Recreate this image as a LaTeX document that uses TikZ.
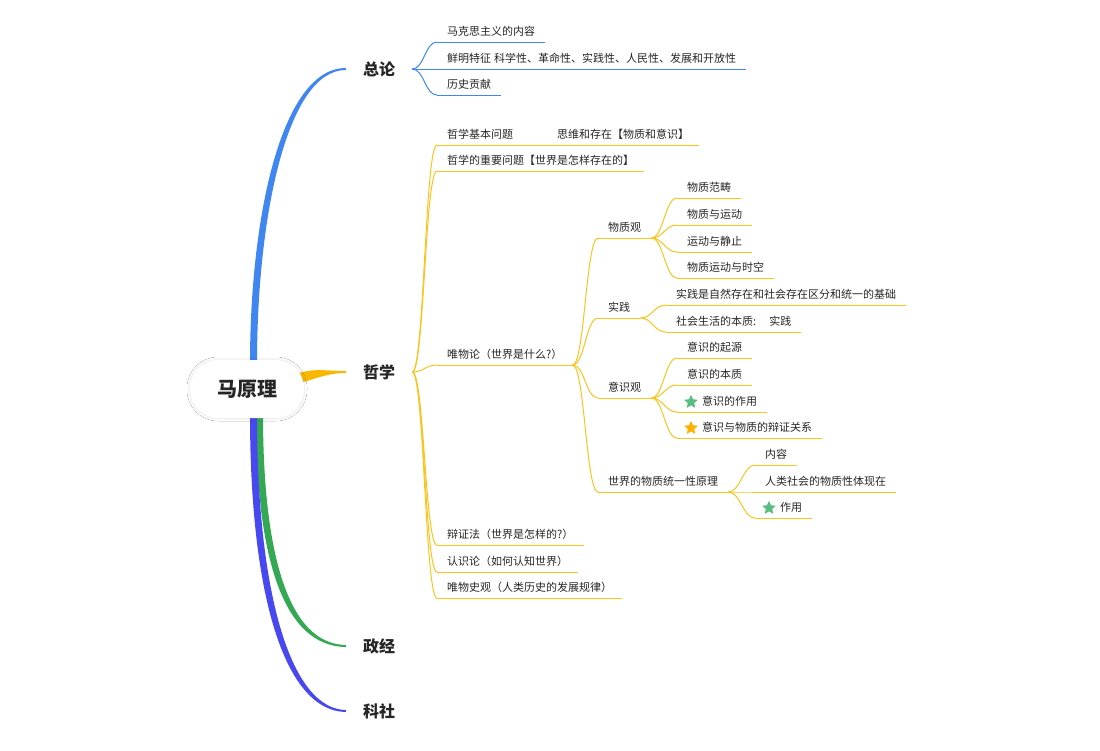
\documentclass[tikz,border=0pt]{standalone}
\usepackage{fontspec}
\setmainfont{Noto Sans CJK SC}
\usetikzlibrary{positioning, calc, shapes.geometric, shadows.blur}
\pgfdeclarelayer{background}
\pgfsetlayers{background,main}
\definecolor{inkgray}{RGB}{38,38,38}
\definecolor{zlblue}{RGB}{64,134,240}
\definecolor{zxgold}{RGB}{248,184,0}
\definecolor{zxline}{RGB}{250,196,30}
\definecolor{zjgreen}{RGB}{52,168,83}
\definecolor{ksviolet}{RGB}{72,72,240}
\definecolor{stargreen}{RGB}{88,190,128}
\definecolor{starorange}{RGB}{255,176,0}
\tikzset{
  rootnode/.style={fill=white, rounded corners=28pt,
    minimum width=114pt, minimum height=58pt, text=inkgray,
    font=\fontsize{20}{24}\selectfont\bfseries,
    blur shadow={shadow xshift=0pt, shadow yshift=0pt, shadow blur radius=3pt, shadow opacity=14}},
  topic/.style={font=\fontsize{16}{18}\selectfont\bfseries, text=inkgray, inner xsep=17pt, inner ysep=4pt},
  leaf/.style={anchor=south west, inner xsep=10pt, inner ysep=4pt, text height=9pt, text depth=2pt,
    font=\fontsize{11}{13}\selectfont, text=inkgray},
  bluelink/.style={draw=zlblue, line width=1pt},
  goldlink/.style={draw=zxline, line width=1pt},
  staricon/.style={star, star points=5, star point ratio=2.3, minimum size=15pt, inner sep=0pt, rounded corners=0.8pt}
}

\begin{document}
\begin{tikzpicture}[x=1pt, y=-1pt]
  % root and main topics
  \node[rootnode] (root) at (247,389) {马原理};
  \node[topic] (zl) at (379,69) {总论};
  \node[topic] (zx) at (379,372) {哲学};
  \node[topic] (zj) at (379,646) {政经};
  \node[topic] (ks) at (379,711) {科社};

  % 总论
  \node[leaf] (zl1) at (437,42) {马克思主义的内容};
  \node[leaf] (zl2) at (437,69) {鲜明特征\hspace{3pt}科学性、革命性、实践性、人民性、发展和开放性};
  \node[leaf] (zl3) at (437,95) {历史贡献};

  % 哲学
  \node[leaf] (zx1) at (437,145) {哲学基本问题\hspace{44pt}思维和存在【物质和意识】};
  \node[leaf] (zx2) at (437,171) {哲学的重要问题【世界是怎样存在的】};
  \node[leaf] (wl) at (437,365) {唯物论（世界是什么?）};
  \node[leaf] (zx4) at (437,545) {辩证法（世界是怎样的?）};
  \node[leaf] (zx5) at (437,572) {认识论（如何认知世界）};
  \node[leaf] (zx6) at (437,598) {唯物史观（人类历史的发展规律）};

  % 唯物论
  \node[leaf] (wz) at (598,238) {物质观};
  \node[leaf] (sj) at (598,318) {实践};
  \node[leaf] (ys) at (598,398) {意识观};
  \node[leaf] (ty) at (598,492) {世界的物质统一性原理};

  \node[leaf] (wz1) at (677,198) {物质范畴};
  \node[leaf] (wz2) at (677,225) {物质与运动};
  \node[leaf] (wz3) at (677,252) {运动与静止};
  \node[leaf] (wz4) at (677,278) {物质运动与时空};

  \node[leaf] (sj1) at (666,305) {实践是自然存在和社会存在区分和统一的基础};
  \node[leaf] (sj2) at (666,332) {社会生活的本质:\hspace{13pt}实践};

  \node[leaf] (ys1) at (677,358) {意识的起源};
  \node[leaf] (ys2) at (677,385) {意识的本质};
  \node[leaf] (ys3) at (677,412) {\hspace*{15pt}意识的作用};
  \node[leaf] (ys4) at (677,438) {\hspace*{15pt}意识与物质的辩证关系};
  \node[staricon, fill=stargreen] (ys3s) at ($(ys3.south west)+(14,-10)$) {};
  \node[staricon, fill=starorange] (ys4s) at ($(ys4.south west)+(14,-10)$) {};

  \node[leaf] (ty1) at (755,465) {内容};
  \node[leaf] (ty2) at (755,492) {人类社会的物质性体现在};
  \node[leaf] (ty3) at (755,518) {\hspace*{15pt}作用};
  \node[staricon, fill=stargreen] (ty3s) at ($(ty3.south west)+(14,-10)$) {};

  % tapered main branches
  \begin{pgfonlayer}{background}
    \fill[white] (0,0) rectangle (1100,750);
    \fill[zlblue] ($(root.north)+(3,4)$) .. controls (250,215) and (282,68) .. ($(zl.west)+(0,-1)$)
      -- ($(zl.west)+(0,1)$) .. controls (287,70) and (257,217) .. ($(root.north)+(10,4)$) -- cycle;
    \fill[zxgold] (299,373) .. controls (316,368) and (326,371) .. ($(zx.west)+(0,-1)$)
      -- ($(zx.west)+(0,1)$) .. controls (328,373) and (318,378) .. (300,383) -- cycle;
    \fill[zjgreen] ($(root.south)+(9,-4)$) .. controls (256,555) and (282,646) .. ($(zj.west)+(0,1)$)
      -- ($(zj.west)+(0,-1)$) .. controls (288,644) and (263,553) .. ($(root.south)+(16,-4)$) -- cycle;
    \fill[ksviolet] ($(root.south)+(3,-4)$) .. controls (250,600) and (286,711) .. ($(ks.west)+(0,1)$)
      -- ($(ks.west)+(0,-1)$) .. controls (292,709) and (257,598) .. ($(root.south)+(10,-4)$) -- cycle;
  \end{pgfonlayer}

  % connectors
  \foreach \n in {zl1,zl2,zl3}{
    \draw[bluelink] (zl.east) .. controls +(12,0) and +(-12,0) .. (\n.south west);
    \draw[bluelink] (\n.south west) -- (\n.south east);
  }
  \foreach \n in {zx1,zx2,wl,zx4,zx5,zx6}
    \draw[goldlink] (zx.east) .. controls +(12,0) and +(-12,0) .. (\n.south west);
  \foreach \n in {wz,sj,ys,ty}
    \draw[goldlink] (wl.south east) .. controls +(12,0) and +(-12,0) .. (\n.south west);
  \foreach \n in {wz1,wz2,wz3,wz4}
    \draw[goldlink] (wz.south east) .. controls +(12,0) and +(-12,0) .. (\n.south west);
  \foreach \n in {sj1,sj2}
    \draw[goldlink] (sj.south east) .. controls +(12,0) and +(-12,0) .. (\n.south west);
  \foreach \n in {ys1,ys2,ys3,ys4}
    \draw[goldlink] (ys.south east) .. controls +(12,0) and +(-12,0) .. (\n.south west);
  \foreach \n in {ty1,ty2,ty3}
    \draw[goldlink] (ty.south east) .. controls +(12,0) and +(-12,0) .. (\n.south west);
  \foreach \n in {zx1,zx2,wl,zx4,zx5,zx6,wz,sj,ys,ty,wz1,wz2,wz3,wz4,sj1,sj2,ys1,ys2,ys3,ys4,ty1,ty2,ty3}
    \draw[goldlink] (\n.south west) -- (\n.south east);
\end{tikzpicture}
\end{document}
